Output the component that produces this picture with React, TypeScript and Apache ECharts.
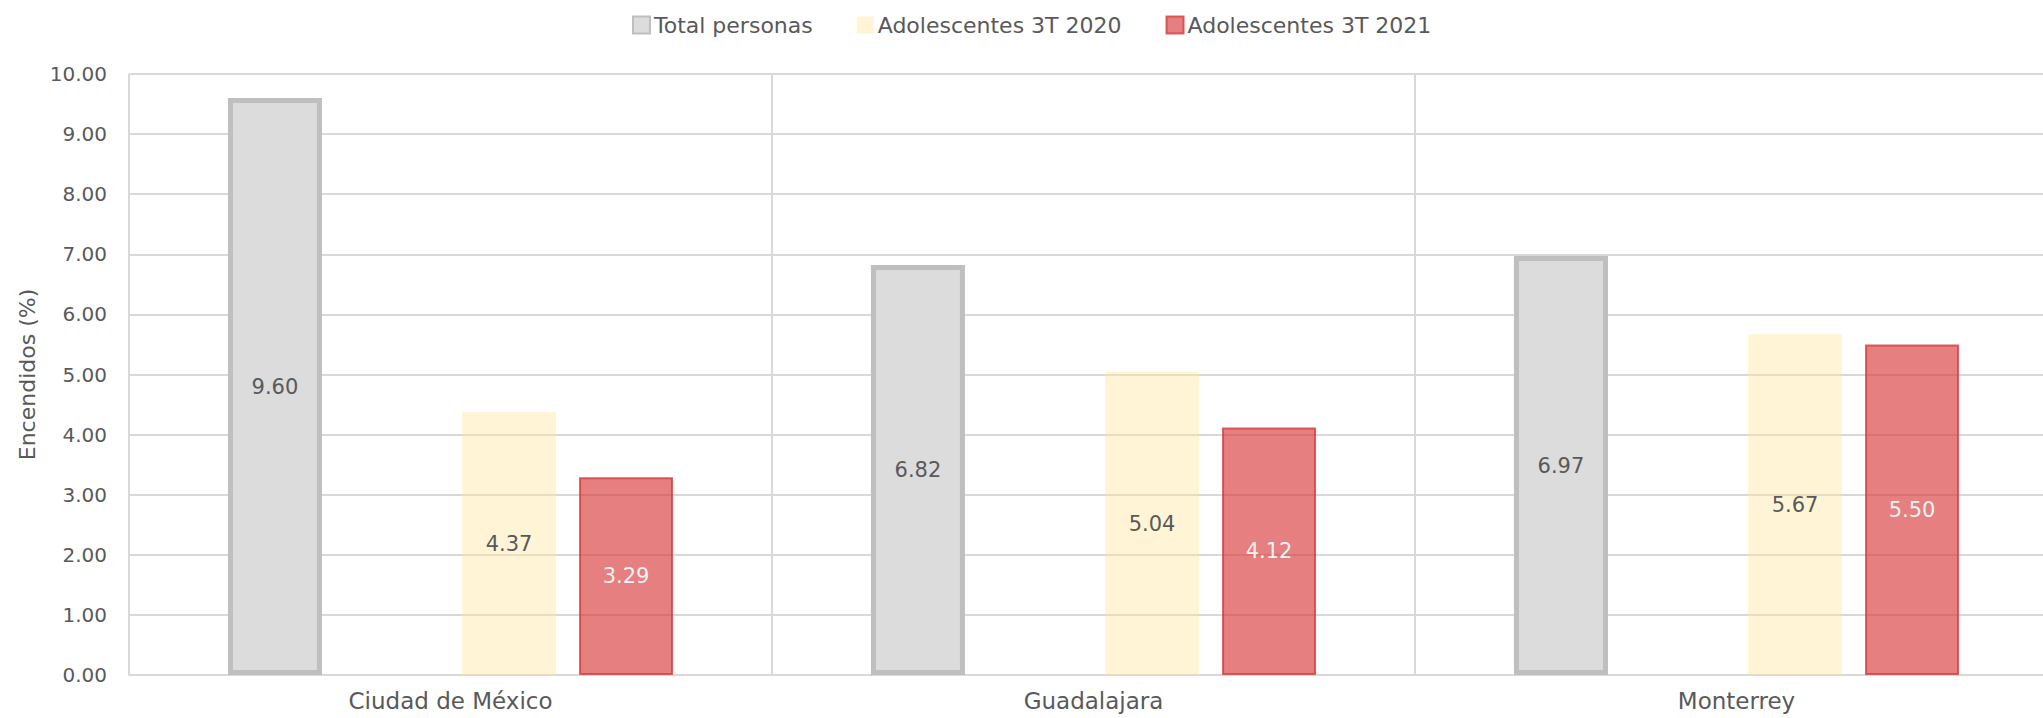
import React, { useEffect, useRef } from "react";
import * as echarts from "echarts";

const categories = ["Ciudad de México", "Guadalajara", "Monterrey"];
const totalPersonas = [9.6, 6.82, 6.97];
const adolescentes2020 = [4.37, 5.04, 5.67];
const adolescentes2021 = [3.29, 4.12, 5.5];
const emptySlot = [null, null, null];
const seriesNames = ["Total personas", "Adolescentes 3T 2020", "Adolescentes 3T 2021"];
const yTicks = { min: 0, max: 10, interval: 1 };

const FONT = "DejaVu Sans";
const TEXT = "#595959";

export default function App() {
  const ref = useRef<HTMLDivElement>(null);
  useEffect(() => {
    if (!ref.current) return;
    document.documentElement.style.overflow = "hidden";
    document.body.style.overflow = "hidden";
    const chart = echarts.init(ref.current, null, { renderer: "svg" });
    const barWidth = 94;
    const barGap = "24.5%";
    const labelBase = {
      show: true,
      position: "inside",
      fontFamily: FONT,
      fontSize: 21,
      color: TEXT,
      formatter: (p: any) => (p.value == null ? "" : Number(p.value).toFixed(2)),
    };
    chart.setOption({
      animation: false,
      backgroundColor: "#ffffff",
      textStyle: { fontFamily: FONT, color: TEXT },
      legend: {
        data: seriesNames,
        left: 627,
        top: 9,
        icon: "rect",
        itemWidth: 17,
        itemHeight: 17,
        itemGap: 44,
        textStyle: { fontFamily: FONT, fontSize: 22, color: TEXT, padding: [0, 0, 0, -1] },
      },
      grid: { left: 129, top: 74, width: 1929, height: 601, containLabel: false },
      xAxis: {
        type: "category",
        data: categories,
        boundaryGap: true,
        axisTick: { show: false },
        axisLine: { show: true, lineStyle: { color: "#d9d9d9", width: 2 } },
        splitLine: { show: true, lineStyle: { color: "#d9d9d9", width: 2 } },
        axisLabel: { fontFamily: FONT, fontSize: 23, color: TEXT, margin: 14 },
      },
      yAxis: {
        type: "value",
        min: yTicks.min,
        max: yTicks.max,
        interval: yTicks.interval,
        name: "Encendidos (%)",
        nameLocation: "middle",
        nameGap: 88,
        nameTextStyle: { fontFamily: FONT, fontSize: 22, color: TEXT },
        axisLine: { show: false },
        axisTick: { show: false },
        splitLine: { show: true, lineStyle: { color: "#d9d9d9", width: 2 } },
        axisLabel: {
          fontFamily: FONT,
          fontSize: 20,
          color: TEXT,
          margin: 22,
          formatter: (v: number) => v.toFixed(2),
        },
      },
      series: [
        {
          name: seriesNames[0],
          type: "bar",
          data: totalPersonas,
          barWidth,
          barGap,
          itemStyle: { color: "#dcdcdc", borderColor: "#bfbfbf", borderWidth: 5 },
          label: labelBase,
        },
        {
          name: "",
          type: "bar",
          data: emptySlot,
          barWidth,
          barGap,
          itemStyle: { color: "transparent" },
          label: { show: false },
        },
        {
          name: seriesNames[1],
          type: "bar",
          data: adolescentes2020,
          barWidth,
          barGap,
          itemStyle: { color: "rgba(255,230,153,0.4)" },
          label: labelBase,
        },
        {
          name: seriesNames[2],
          type: "bar",
          data: adolescentes2021,
          barWidth,
          barGap,
          itemStyle: {
            color: "rgba(215,58,60,0.65)",
            borderColor: "rgba(215,58,60,0.8)",
            borderWidth: 2,
          },
          label: { ...labelBase, color: "#f2f2f2" },
        },
      ],
    });
    return () => chart.dispose();
  }, []);
  return (
    <div
      ref={ref}
      style={{ position: "fixed", left: 0, top: 0, width: 2080, height: 718 }}
    />
  );
}
